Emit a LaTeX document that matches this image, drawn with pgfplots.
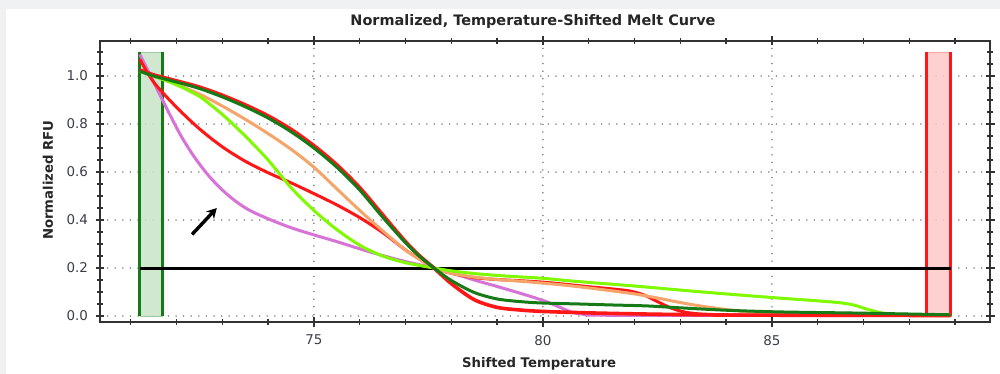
\documentclass[border=0pt]{standalone}
\usepackage{fontspec}
\setmainfont{DejaVu Sans}
\usepackage{pgfplots}
\pgfplotsset{compat=1.18}
\usetikzlibrary{arrows.meta}
\definecolor{bggray}{RGB}{240,241,243}
\definecolor{dgreen}{RGB}{22,122,22}
\definecolor{bred}{RGB}{255,22,22}
\definecolor{sorange}{RGB}{245,165,105}
\definecolor{limec}{RGB}{128,250,0}
\definecolor{orchidc}{RGB}{215,115,215}
\definecolor{gridc}{RGB}{85,85,85}
\definecolor{framec}{RGB}{50,50,50}
\definecolor{tickc}{RGB}{60,62,72}
\definecolor{boxgreen}{RGB}{200,228,200}
\definecolor{boxred}{RGB}{255,200,200}
\begin{document}
\begin{tikzpicture}
\useasboundingbox (0,0) rectangle (1000bp,374bp);
\fill[bggray] (0,0) rectangle (1000bp,374bp);
\fill[white] (6bp,0) rectangle (1000bp,365bp);
\begin{axis}[
  at={(100bp,52bp)}, anchor=south west, scale only axis,
  width=890bp, height=281bp,
  xmin=70.33, xmax=89.76, ymin=-0.025, ymax=1.146,
  xtick={75,80,85}, ytick={0,0.2,0.4,0.6,0.8,1.0},
  minor xtick={71,72,73,74,76,77,78,79,81,82,83,84,86,87,88,89},
  minor ytick={0.05,0.1,0.15,0.25,0.3,0.35,0.45,0.5,0.55,0.65,0.7,0.75,0.85,0.9,0.95,1.05,1.1},
  grid=major,
  major grid style={gridc, line width=1.5bp, line cap=round, dash pattern=on 0bp off 7.6bp},
  tick align=center, xtick pos=both, ytick pos=both, ticklabel pos=left,
  major tick length=9bp, minor tick length=6bp,
  every tick/.style={framec, line width=1.4bp},
  axis line style={framec, line width=1.6bp},
  /pgf/number format/assume math mode=true,
  yticklabel style={/pgf/number format/fixed, /pgf/number format/fixed zerofill, /pgf/number format/precision=1, xshift=-4bp},
  xticklabel style={yshift=-5bp},
  ticklabel style={font=\fontsize{13.5}{15}\selectfont, text=tickc},
  title={Normalized, Temperature-Shifted Melt Curve},
  title style={at={(axis description cs:0.4865,1.0498)}, anchor=base, yshift=-4bp, font=\fontsize{14.5}{17}\selectfont\bfseries, text=black!85},
  xlabel={Shifted Temperature},
  xlabel style={at={(axis description cs:0.4933,-0.1637)}, anchor=base, font=\fontsize{13.3}{16}\selectfont\bfseries, text=black!85},
  ylabel={Normalized RFU},
  ylabel style={at={(axis description cs:-0.0584,0.505)}, anchor=center, font=\fontsize{13.3}{16}\selectfont\bfseries, text=black!85},
]
% regions
\addplot[fill=boxgreen, draw=dgreen!40, line width=0.6bp, fill opacity=0.85] coordinates {(71.2,0) (71.7,0) (71.7,1.1) (71.2,1.1) (71.2,0)};
\addplot[fill=boxred, draw=bred!40, line width=0.6bp, fill opacity=0.85] coordinates {(88.37,0) (88.9,0) (88.9,1.1) (88.37,1.1) (88.37,0)};
\addplot[dgreen, line width=2.8bp] coordinates {(71.2,0) (71.2,1.1)};
\addplot[dgreen, line width=2.8bp] coordinates {(71.7,0) (71.7,1.1)};
\addplot[bred, line width=2.8bp] coordinates {(88.37,0) (88.37,1.1)};
\addplot[bred, line width=2.8bp] coordinates {(88.9,0) (88.9,1.1)};
% threshold
\addplot[black, line width=3bp] coordinates {(71.2,0.2) (88.9,0.2)};
% violet
\addplot[orchidc, line width=3bp, smooth] coordinates {
(71.2,1.09) (71.5,0.975) (71.8,0.86) (72.1,0.75) (72.4,0.66) (72.7,0.585) (73.0,0.525) (73.3,0.477) (73.6,0.44) (74.0,0.405) (74.5,0.368) (75.0,0.338) (75.5,0.31) (76.0,0.28) (76.5,0.252) (77.0,0.227) (77.62,0.2) (78.0,0.18) (78.5,0.15) (79.0,0.123) (79.5,0.095) (80,0.065) (80.3,0.042) (80.6,0.018) (80.9,0.007) (81.5,0.003) (87,0.002)};
% red 2 (shallow)
\addplot[bred, line width=3bp, smooth] coordinates {
(71.2,1.07) (71.5,0.975) (72.0,0.87) (72.5,0.78) (73.0,0.705) (73.5,0.645) (74.0,0.597) (74.5,0.555) (75.0,0.51) (75.5,0.463) (76.0,0.41) (76.5,0.348) (77.0,0.275) (77.3,0.238) (77.62,0.2) (78.0,0.178) (78.5,0.16) (79,0.152) (79.5,0.147) (80,0.141) (80.5,0.132) (81,0.122) (81.5,0.113) (81.9,0.104) (82.2,0.088) (82.5,0.06) (82.8,0.033) (83.1,0.016) (83.5,0.008) (84.5,0.004) (88.9,0.003)};
% orange
\addplot[sorange, line width=3bp, smooth] coordinates {
(71.2,1.02) (71.5,1.0) (72.0,0.965) (72.5,0.925) (73.0,0.875) (73.5,0.82) (74.0,0.76) (74.5,0.695) (75.0,0.62) (75.5,0.53) (76.0,0.44) (76.5,0.355) (77.0,0.275) (77.3,0.237) (77.62,0.2) (78.0,0.178) (78.5,0.162) (79,0.152) (79.5,0.145) (80,0.137) (80.5,0.128) (81,0.117) (81.5,0.105) (82,0.092) (82.5,0.075) (83,0.056) (83.5,0.04) (84,0.027) (84.5,0.017) (85,0.01) (85.5,0.006) (86.5,0.003) (88.9,0.002)};
% lime
\addplot[limec, line width=3bp, smooth] coordinates {
(71.2,1.02) (71.5,1.0) (72.0,0.963) (72.5,0.915) (73.0,0.84) (73.5,0.75) (74.0,0.65) (74.5,0.535) (75.0,0.44) (75.5,0.36) (76.0,0.295) (76.5,0.25) (77.0,0.222) (77.62,0.2) (78.0,0.188) (78.5,0.177) (79.0,0.169) (79.5,0.163) (80,0.157) (80.5,0.148) (81,0.14) (82,0.125) (83,0.108) (84,0.092) (85,0.077) (85.5,0.07) (86,0.063) (86.5,0.055) (86.8,0.045) (87.1,0.027) (87.4,0.013) (87.7,0.007) (88.9,0.005)};
% red 1 (steep)
\addplot[bred, line width=3.6bp, smooth] coordinates {
(71.2,1.025) (71.5,1.005) (72.0,0.98) (72.5,0.954) (73.0,0.92) (73.5,0.88) (74.0,0.834) (74.5,0.778) (75.0,0.71) (75.5,0.63) (76.0,0.535) (76.5,0.422) (77.0,0.31) (77.3,0.252) (77.62,0.2) (78.0,0.135) (78.5,0.068) (79.0,0.036) (79.5,0.025) (80,0.019) (81,0.013) (82,0.009) (83,0.006) (84,0.004) (86,0.003) (88.9,0.002)};
% dark green
\addplot[dgreen, line width=3bp, smooth] coordinates {
(71.2,1.02) (71.5,1.0) (72.0,0.975) (72.5,0.948) (73.0,0.913) (73.5,0.872) (74.0,0.825) (74.5,0.768) (75.0,0.70) (75.5,0.62) (76.0,0.525) (76.5,0.412) (77.0,0.305) (77.3,0.25) (77.62,0.2) (78.0,0.148) (78.5,0.098) (79.0,0.071) (79.5,0.06) (80,0.054) (80.8,0.05) (81.5,0.046) (82.27,0.042) (83,0.034) (84,0.024) (85.17,0.017) (86.92,0.012) (88.9,0.005)};
% arrow annotation
\draw[-{Stealth[length=10bp,width=11bp]}, line width=3.4bp] (axis cs:72.34,0.34) -- (axis cs:72.88,0.45);
\end{axis}
\end{tikzpicture}
\end{document}
